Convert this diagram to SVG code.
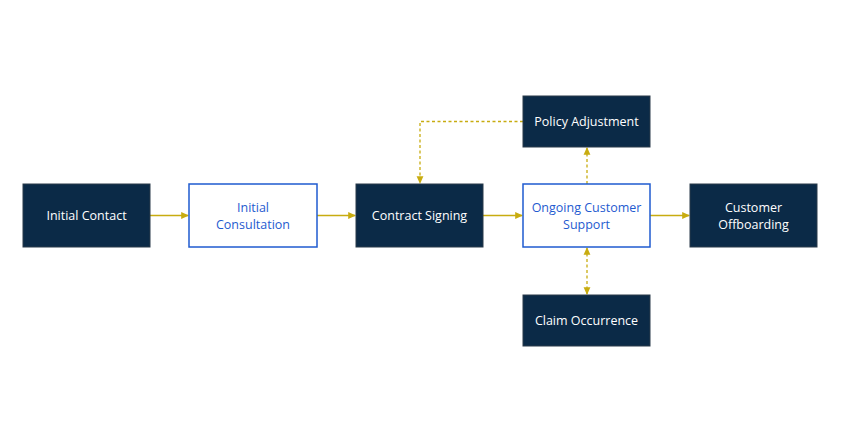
<svg xmlns="http://www.w3.org/2000/svg" width="850" height="425" viewBox="0 0 850 425">
<style>
.d{fill:#0b2a47;stroke:#2a3a4a;stroke-width:1}
.w{fill:#fff;stroke:#1f5bd0;stroke-width:1.5}
.t{font-family:"Open Sans","Liberation Sans",sans-serif;font-size:12.5px;text-anchor:middle}
.tw{fill:#fff}.tb{fill:#1f5bd0}
.c{fill:none;stroke:#c8ac10;stroke-width:1.3}
.ds{stroke-dasharray:3,2.5}
</style>
<defs>
<marker id="a" viewBox="0 0 8 8" refX="7" refY="4" markerWidth="6" markerHeight="6" orient="auto-start-reverse"><path d="M0,0.5L8,4L0,7.5z" fill="#c8ac10"/></marker>
</defs>
<rect width="850" height="425" fill="#fff"/>
<g id="connectors">
<path class="c" d="M150,215.5H188" marker-end="url(#a)"/>
<path class="c" d="M317,215.5H355" marker-end="url(#a)"/>
<path class="c" d="M483,215.5H522" marker-end="url(#a)"/>
<path class="c" d="M650,215.5H689" marker-end="url(#a)"/>
<path class="c ds" d="M523,121.5H420V183" marker-end="url(#a)"/>
<path class="c ds" d="M587,184V148" marker-end="url(#a)"/>
<path class="c ds" d="M587,248V294" marker-start="url(#a)" marker-end="url(#a)"/>
</g>
<g id="n1"><rect class="d" x="23" y="184" width="127" height="63"/><text class="t tw" x="86.5" y="220">Initial Contact</text></g>
<g id="n2"><rect class="w" x="189" y="184" width="128" height="63"/><text class="t tb" x="253" y="212">Initial</text><text class="t tb" x="253" y="229">Consultation</text></g>
<g id="n3"><rect class="d" x="356" y="184" width="127" height="63"/><text class="t tw" x="419.5" y="220">Contract Signing</text></g>
<g id="n4"><rect class="w" x="523" y="184" width="127" height="63"/><text class="t tb" x="586.5" y="212">Ongoing Customer</text><text class="t tb" x="586.5" y="229">Support</text></g>
<g id="n5"><rect class="d" x="690" y="184" width="127" height="63"/><text class="t tw" x="753.5" y="212">Customer</text><text class="t tw" x="753.5" y="229">Offboarding</text></g>
<g id="n6"><rect class="d" x="523" y="96" width="127" height="51"/><text class="t tw" x="586.5" y="126">Policy Adjustment</text></g>
<g id="n7"><rect class="d" x="523" y="295" width="127" height="51"/><text class="t tw" x="586.5" y="325">Claim Occurrence</text></g>
</svg>
